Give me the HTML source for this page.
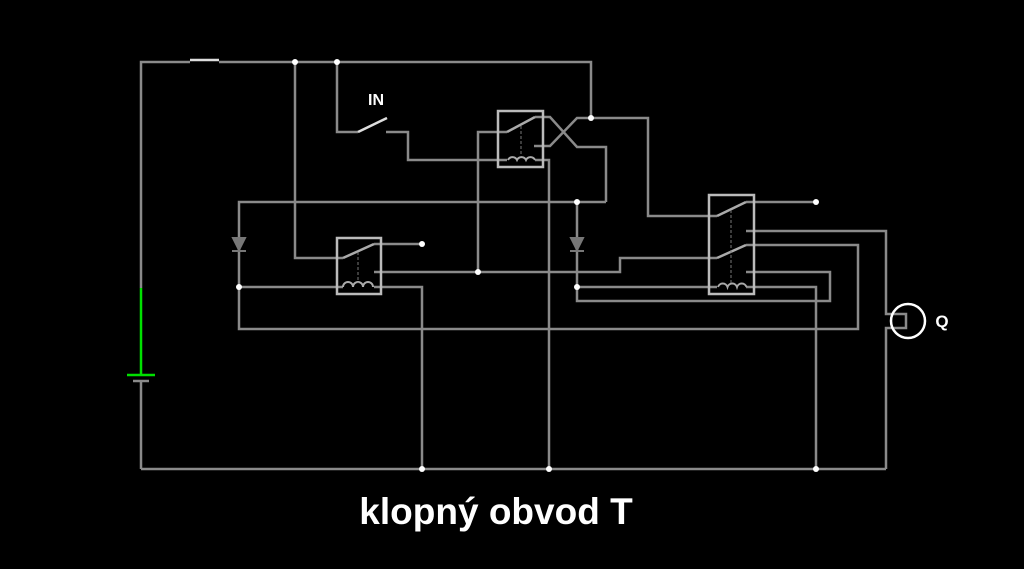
<!DOCTYPE html>
<html><head><meta charset="utf-8"><style>
html,body{margin:0;padding:0;background:#000;width:1024px;height:569px;overflow:hidden}
svg{display:block}
text{font-family:"Liberation Sans",sans-serif;font-weight:bold;fill:#fff}
</style></head><body>
<svg width="1024" height="569" viewBox="0 0 1024 569" xmlns="http://www.w3.org/2000/svg">
<g fill="none" stroke="#8a8a8a" stroke-width="2.5" stroke-linejoin="miter">
<polyline points="190,62 141,62 141,288"/>
<polyline points="219,62 591,62 591,118"/>
<line x1="141" y1="381" x2="141" y2="469"/>
<line x1="133" y1="381" x2="149" y2="381"/>
<line x1="141" y1="469" x2="886" y2="469"/>
<polyline points="295,62 295,258 343,258"/>
<polyline points="374,244 422,244"/>
<polyline points="337,62 337,132 358,132"/>
<polyline points="386,132 408,132 408,160 507,160"/>
<polyline points="478,272 478,132 507,132"/>
<polyline points="535,117 550,117 577,147 606,147 606,202"/>
<polyline points="534,146 550,146 577,118 648,118 648,216 717,216"/>
<polyline points="535,160 549,160 549,469"/>
<polyline points="606,202 239,202 239,329 858,329 858,245 746,245"/>
<polyline points="239,287 343,287"/>
<polyline points="374,287 422,287 422,469"/>
<polyline points="374,272 620,272 620,258 717,258"/>
<polyline points="577,202 577,301 830,301 830,272 746,272"/>
<polyline points="577,287 717,287"/>
<polyline points="746,287 816,287 816,469"/>
<polyline points="746,202 816,202"/>
<polyline points="746,231 886,231 886,314 906,314 906,328 886,328 886,469"/>
</g>
<g stroke="#aaa" stroke-width="2.5">
<line x1="343" y1="258" x2="374" y2="244"/>
<line x1="507" y1="132" x2="535" y2="117"/>
<line x1="717" y1="216" x2="746" y2="202"/>
<line x1="717" y1="258" x2="746" y2="245"/>
</g>
<g stroke="#ddd" stroke-width="2.5" fill="none">
<line x1="190" y1="60" x2="219" y2="60"/>
<line x1="358" y1="132" x2="387" y2="118"/>
</g>
<g stroke="#00e000" stroke-width="2.5">
<line x1="141" y1="288" x2="141" y2="375"/>
<line x1="127" y1="375" x2="155" y2="375"/>
</g>
<g fill="none" stroke="#bbb" stroke-width="2.5">
<rect x="337" y="238" width="44" height="56"/>
<rect x="498" y="111" width="45" height="56"/>
<rect x="709" y="195" width="45" height="99"/>
</g>
<g fill="none" stroke="#aaa" stroke-width="2">
<path d="M343,287 a5,5 0 0 1 10,0 a5,5 0 0 1 10,0 a5,5 0 0 1 10,0"/>
<path d="M508,160 a5,5 0 0 1 9,0 a5,5 0 0 1 9,0 a5,5 0 0 1 9,0"/>
<path d="M718,287 a5,5 0 0 1 9.5,0 a5,5 0 0 1 9.5,0 a5,5 0 0 1 9.5,0"/>
</g>
<g stroke="#777" stroke-width="1" stroke-dasharray="3,2">
<line x1="358" y1="252" x2="358" y2="283"/>
<line x1="521" y1="126" x2="521" y2="156"/>
<line x1="731" y1="210" x2="731" y2="283"/>
</g>
<g fill="#777" stroke="#777" stroke-width="2">
<polygon points="233,238 245,238 239,250"/>
<line x1="232" y1="251" x2="246" y2="251"/>
<polygon points="571,238 583,238 577,250"/>
<line x1="570" y1="251" x2="584" y2="251"/>
</g>
<circle cx="908" cy="321" r="17" fill="none" stroke="#fff" stroke-width="2.5"/>
<g fill="#fff">
<circle cx="295" cy="62" r="3"/><circle cx="337" cy="62" r="3"/>
<circle cx="591" cy="118" r="3"/><circle cx="422" cy="244" r="3"/>
<circle cx="816" cy="202" r="3"/><circle cx="577" cy="202" r="3"/>
<circle cx="239" cy="287" r="3"/><circle cx="577" cy="287" r="3"/>
<circle cx="478" cy="272" r="3"/>
<circle cx="422" cy="469" r="3"/><circle cx="549" cy="469" r="3"/><circle cx="816" cy="469" r="3"/>
</g>
<text x="376" y="105" font-size="16" text-anchor="middle">IN</text>
<text x="942" y="327" font-size="17" text-anchor="middle">Q</text>
<text x="496" y="524" font-size="37" text-anchor="middle">klopný obvod T</text>
</svg>
</body></html>
